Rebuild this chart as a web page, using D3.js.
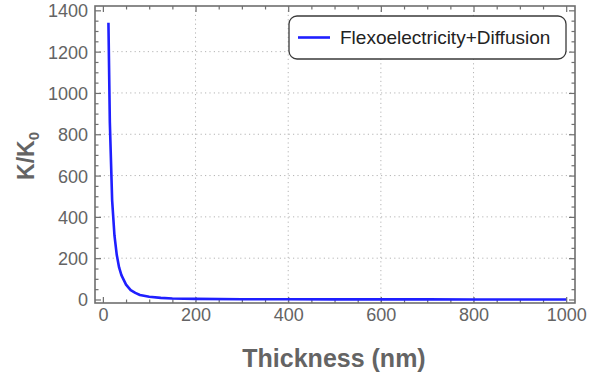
<!DOCTYPE html>
<html>
<head>
<meta charset="utf-8">
<script src="https://cdn.jsdelivr.net/npm/d3@7"></script>
<style>
  html, body { margin: 0; padding: 0; background: #fff; }
  svg { display: block; font-family: "Liberation Sans", Arial, Helvetica, sans-serif; }
</style>
</head>
<body>
<svg id="chart" width="589" height="377"></svg>
<script>
// ---- data ----
const thickness = [12, 15, 20, 25, 30, 35, 40, 50, 60, 70, 80, 100, 125, 150, 200, 300, 400, 500, 600, 700, 800, 900, 1000];
const ratio     = [1340, 860, 480, 310, 215, 155, 118, 72, 45, 32, 22, 13, 8, 5, 3, 1.5, 1, 0.7, 0.5, 0.4, 0.3, 0.25, 0.2];
const seriesName = "Flexoelectricity+Diffusion";
const xTicks = [0, 200, 400, 600, 800, 1000];
const yTicks = [0, 200, 400, 600, 800, 1000, 1200, 1400];
const xGrid = [200, 400, 600, 800];
const yGrid = [200, 400, 600, 800, 1000, 1200];
const xMinor = d3.range(0, 1001, 50);
const yMinor = d3.range(0, 1401, 50);

// ---- layout ----
const L = 95, R = 575, T = 6, B = 303;
const svg = d3.select("#chart");
const x = d3.scaleLinear().domain([-17, 1019]).range([L, R]);
const y = d3.scaleLinear().domain([-17, 1421]).range([B, T]);

const frameColor = "#6e6e6e";
const labelColor = "#646464";

// grid
const grid = svg.append("g").attr("stroke", "#b4b4b4").attr("stroke-width", 1).attr("stroke-dasharray", "1.2,3.2");
grid.selectAll("line.gx").data(xGrid).enter().append("line")
  .attr("x1", d => x(d)).attr("x2", d => x(d)).attr("y1", T).attr("y2", B);
grid.selectAll("line.gy").data(yGrid).enter().append("line")
  .attr("x1", L).attr("x2", R).attr("y1", d => y(d)).attr("y2", d => y(d));

// axes with inward ticks (major + minor) on all sides
function addAxis(axisGen, transform) {
  const g = svg.append("g").attr("transform", transform).call(axisGen);
  g.select(".domain").remove();
  g.selectAll("line").attr("stroke", frameColor).attr("stroke-width", 1.2);
  return g;
}
const isMajorX = d => d % 200 === 0;
const isMajorY = d => d % 200 === 0;

// bottom major with labels
const bx = addAxis(d3.axisBottom(x).tickValues(xTicks).tickSize(-6).tickPadding(11).tickFormat(d3.format("d")), `translate(0,${B})`);
bx.selectAll("text").attr("fill", labelColor).attr("font-size", 18).attr("dy", "0.71em").attr("y", 5);
addAxis(d3.axisBottom(x).tickValues(xMinor.filter(d => !isMajorX(d))).tickSize(-3.5).tickFormat(""), `translate(0,${B})`);
// top
addAxis(d3.axisTop(x).tickValues(xTicks).tickSize(-6).tickFormat(""), `translate(0,${T})`);
addAxis(d3.axisTop(x).tickValues(xMinor.filter(d => !isMajorX(d))).tickSize(-3.5).tickFormat(""), `translate(0,${T})`);
// left
const ly = addAxis(d3.axisLeft(y).tickValues(yTicks).tickSize(-6).tickFormat(d3.format("d")), `translate(${L},0)`);
ly.selectAll("text").attr("fill", labelColor).attr("font-size", 18).attr("x", -7).attr("dy", "0.36em");
addAxis(d3.axisLeft(y).tickValues(yMinor.filter(d => !isMajorY(d))).tickSize(-3.5).tickFormat(""), `translate(${L},0)`);
// right
addAxis(d3.axisRight(y).tickValues(yTicks).tickSize(-6).tickFormat(""), `translate(${R},0)`);
addAxis(d3.axisRight(y).tickValues(yMinor.filter(d => !isMajorY(d))).tickSize(-3.5).tickFormat(""), `translate(${R},0)`);

// frame
svg.append("rect").attr("x", L).attr("y", T).attr("width", R - L).attr("height", B - T)
  .attr("fill", "none").attr("stroke", frameColor).attr("stroke-width", 1.6);

// line
const pts = thickness.map((t, i) => [t, ratio[i]]);
svg.append("path").datum(pts)
  .attr("fill", "none").attr("stroke", "#1f1fff").attr("stroke-width", 2.6)
  .attr("stroke-linejoin", "round").attr("stroke-linecap", "butt")
  .attr("d", d3.line().x(d => x(d[0])).y(d => y(d[1])));

// legend
const lg = svg.append("g");
lg.append("rect").attr("x", 289).attr("y", 16).attr("width", 277).attr("height", 43)
  .attr("rx", 8).attr("ry", 8).attr("fill", "#fff").attr("stroke", "#3a3a3a").attr("stroke-width", 1.3);
lg.append("line").attr("x1", 298).attr("x2", 330).attr("y1", 37.5).attr("y2", 37.5)
  .attr("stroke", "#1f1fff").attr("stroke-width", 2.6);
lg.append("text").attr("x", 340).attr("y", 44).attr("font-size", 19).attr("fill", "#222")
  .text(seriesName);

// axis titles
svg.append("text").attr("x", 334).attr("y", 367).attr("text-anchor", "middle")
  .attr("font-size", 25).attr("font-weight", "bold").attr("fill", labelColor)
  .text("Thickness (nm)");
const yl = svg.append("text").attr("transform", "translate(34,156) rotate(-90)")
  .attr("text-anchor", "middle").attr("font-size", 23).attr("font-weight", "bold").attr("fill", labelColor);
yl.append("tspan").text("K/K");
yl.append("tspan").attr("font-size", 15).attr("dy", 5).text("0");
</script>
</body>
</html>
